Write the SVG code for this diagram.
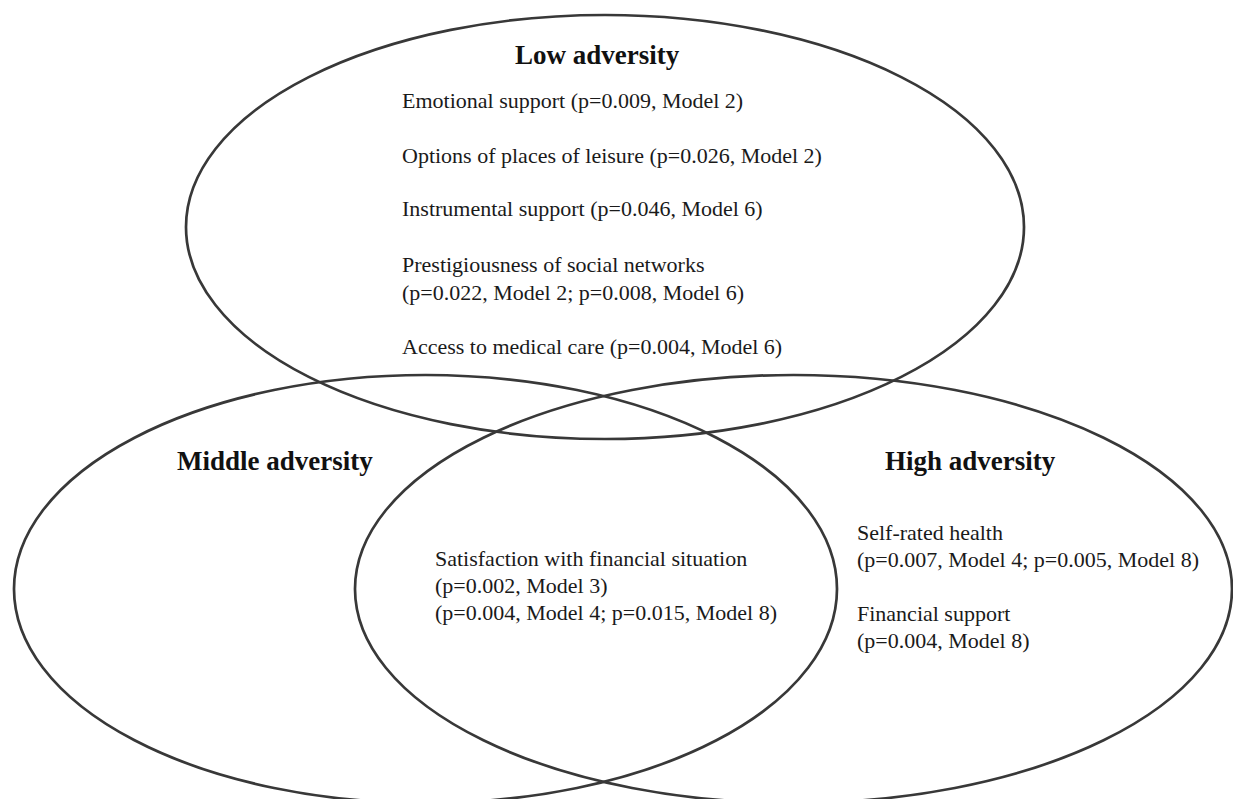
<svg xmlns="http://www.w3.org/2000/svg" width="1233" height="799" viewBox="0 0 1233 799">
<style>
.set{fill:none;stroke:#383838;stroke-width:2.7}
.title{font-family:"Liberation Serif","Times New Roman",serif;font-weight:bold;font-size:27px;fill:#111}
.item{font-family:"Liberation Serif","Times New Roman",serif;font-size:22px;fill:#1a1a1a}
</style>
<rect width="1233" height="799" fill="#ffffff"/>
<g id="connectors"></g>
<g id="low-adversity">
<ellipse class="set" cx="605" cy="227" rx="419" ry="212"/>
<text class="title" x="515" y="64">Low adversity</text>
<text class="item" x="402" y="108">Emotional support (p=0.009, Model 2)</text>
<text class="item" x="402" y="163">Options of places of leisure (p=0.026, Model 2)</text>
<text class="item" x="402" y="216">Instrumental support (p=0.046, Model 6)</text>
<text class="item" x="402" y="272">Prestigiousness of social networks</text>
<text class="item" x="402" y="300">(p=0.022, Model 2; p=0.008, Model 6)</text>
<text class="item" x="402" y="354">Access to medical care (p=0.004, Model 6)</text>
</g>
<g id="middle-adversity">
<ellipse class="set" cx="425.5" cy="589" rx="411.5" ry="214"/>
<text class="title" x="177" y="470">Middle adversity</text>
</g>
<g id="high-adversity">
<ellipse class="set" cx="793.5" cy="589" rx="438.5" ry="214"/>
<text class="title" x="885" y="470">High adversity</text>
<text class="item" x="857" y="540">Self-rated health</text>
<text class="item" x="857" y="567">(p=0.007, Model 4; p=0.005, Model 8)</text>
<text class="item" x="857" y="621">Financial support</text>
<text class="item" x="857" y="648">(p=0.004, Model 8)</text>
</g>
<g id="middle-high-overlap">
<text class="item" x="435" y="566">Satisfaction with financial situation</text>
<text class="item" x="435" y="593">(p=0.002, Model 3)</text>
<text class="item" x="435" y="620">(p=0.004, Model 4; p=0.015, Model 8)</text>
</g>
</svg>
